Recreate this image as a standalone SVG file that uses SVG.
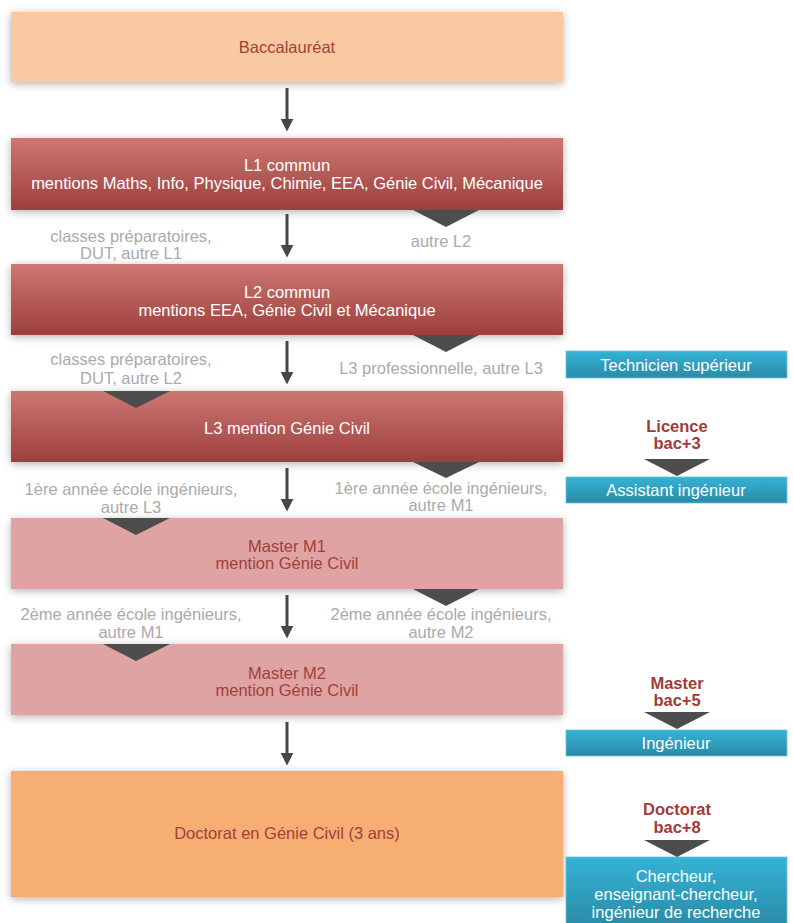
<svg xmlns="http://www.w3.org/2000/svg" width="793" height="923" viewBox="0 0 793 923">
<defs>
<filter id="sh" x="-10%" y="-30%" width="120%" height="160%">
<feDropShadow dx="0" dy="2" stdDeviation="4" flood-color="#000" flood-opacity="0.3"/>
</filter>
<linearGradient id="red" x1="0" y1="0" x2="0" y2="1">
<stop offset="0" stop-color="#cd7773"/>
<stop offset="1" stop-color="#9d3f3d"/>
</linearGradient>
<linearGradient id="teal" x1="0" y1="0" x2="0" y2="1">
<stop offset="0" stop-color="#35b3d6"/>
<stop offset="1" stop-color="#2a8aa6"/>
</linearGradient>
<marker id="ah" viewBox="0 0 10 10" refX="1" refY="5" markerWidth="4.3" markerHeight="5" orient="auto" markerUnits="strokeWidth">
<path d="M0,0 L10,5 L0,10 Z" fill="#464646"/>
</marker>
<style>
text{font-family:"Liberation Sans",Arial,sans-serif;font-size:16.5px;text-anchor:middle}
.w{fill:#fff}
.d{fill:#a2403b}
.g{fill:#aaaaaa}
.b{fill:#a13a38;font-weight:bold}
.conn line{stroke:#464646;stroke-width:3}
.chev{fill:#4d4d4d}
</style>
</defs>

<g id="bac">
<rect x="11" y="12" width="552" height="70" fill="#f9c9a2" filter="url(#sh)"/>
<text x="287" y="53" class="d">Baccalauréat</text>
</g>

<g id="l1">
<rect x="11" y="138" width="552" height="72" fill="url(#red)" filter="url(#sh)"/>
<text x="287" y="171" class="w">L1 commun</text>
<text x="287" y="189" class="w">mentions Maths, Info, Physique, Chimie, EEA, Génie Civil, Mécanique</text>
</g>

<g id="l2">
<rect x="11" y="264" width="552" height="71" fill="url(#red)" filter="url(#sh)"/>
<text x="287" y="298" class="w">L2 commun</text>
<text x="287" y="316" class="w">mentions EEA, Génie Civil et Mécanique</text>
</g>

<g id="l3">
<rect x="11" y="391" width="552" height="71" fill="url(#red)" filter="url(#sh)"/>
<text x="287" y="434" class="w">L3 mention Génie Civil</text>
</g>

<g id="m1">
<rect x="11" y="518" width="552" height="71" fill="#dfa3a3" filter="url(#sh)"/>
<text x="287" y="552" class="d">Master M1</text>
<text x="287" y="569" class="d">mention Génie Civil</text>
</g>

<g id="m2">
<rect x="11" y="644" width="552" height="71" fill="#dfa3a3" filter="url(#sh)"/>
<text x="287" y="679" class="d">Master M2</text>
<text x="287" y="696" class="d">mention Génie Civil</text>
</g>

<g id="doc">
<rect x="11" y="771" width="552" height="126" fill="#f7ae73" filter="url(#sh)"/>
<text x="287" y="839" class="d">Doctorat en Génie Civil (3 ans)</text>
</g>

<g id="tech">
<rect x="566" y="351" width="221" height="27" fill="url(#teal)" stroke="#6cc3dd" stroke-width="0.8"/>
<text x="676" y="371" class="w">Technicien supérieur</text>
</g>

<g id="assist">
<rect x="566" y="477" width="221" height="26" fill="url(#teal)" stroke="#6cc3dd" stroke-width="0.8"/>
<text x="676" y="496" class="w">Assistant ingénieur</text>
</g>

<g id="ing">
<rect x="566" y="730" width="221" height="26" fill="url(#teal)" stroke="#6cc3dd" stroke-width="0.8"/>
<text x="676" y="749" class="w">Ingénieur</text>
</g>

<g id="cherch">
<rect x="566" y="857" width="221" height="70" fill="url(#teal)" stroke="#6cc3dd" stroke-width="0.8"/>
<text x="676" y="882" class="w">Chercheur,</text>
<text x="676" y="900" class="w">enseignant-chercheur,</text>
<text x="676" y="918" class="w">ingénieur de recherche</text>
</g>

<g id="labels">
<text x="131" y="242" class="g">classes préparatoires,</text>
<text x="131" y="259" class="g">DUT, autre L1</text>
<text x="441" y="247" class="g">autre L2</text>
<text x="131" y="365" class="g">classes préparatoires,</text>
<text x="131" y="384" class="g">DUT, autre L2</text>
<text x="441" y="374" class="g">L3 professionnelle, autre L3</text>
<text x="131" y="495" class="g">1ère année école ingénieurs,</text>
<text x="131" y="513" class="g">autre L3</text>
<text x="441" y="494" class="g">1ère année école ingénieurs,</text>
<text x="441" y="511" class="g">autre M1</text>
<text x="131" y="620" class="g">2ème année école ingénieurs,</text>
<text x="131" y="638" class="g">autre M1</text>
<text x="441" y="620" class="g">2ème année école ingénieurs,</text>
<text x="441" y="638" class="g">autre M2</text>
<text x="677" y="432" class="b">Licence</text>
<text x="677" y="449" class="b">bac+3</text>
<text x="677" y="689" class="b">Master</text>
<text x="677" y="706" class="b">bac+5</text>
<text x="677" y="815" class="b">Doctorat</text>
<text x="677" y="833" class="b">bac+8</text>
</g>

<g id="connectors" class="conn">
<line x1="287" y1="88" x2="287" y2="120" marker-end="url(#ah)"/>
<line x1="287" y1="214" x2="287" y2="246" marker-end="url(#ah)"/>
<line x1="287" y1="341" x2="287" y2="373" marker-end="url(#ah)"/>
<line x1="287" y1="468" x2="287" y2="500" marker-end="url(#ah)"/>
<line x1="287" y1="595" x2="287" y2="627" marker-end="url(#ah)"/>
<line x1="287" y1="722" x2="287" y2="754" marker-end="url(#ah)"/>
<polygon class="chev" points="413,210 479,210 446,227"/>
<polygon class="chev" points="413,335 479,335 446,352"/>
<polygon class="chev" points="103,391 170,391 136,408"/>
<polygon class="chev" points="413,462 479,462 446,478"/>
<polygon class="chev" points="103,518 170,518 136,535"/>
<polygon class="chev" points="413,589 479,589 446,606"/>
<polygon class="chev" points="103,644 170,644 136,661"/>
<polygon class="chev" points="644,459 710,459 677,476"/>
<polygon class="chev" points="644,712 710,712 677,729"/>
<polygon class="chev" points="644,840 710,840 677,857"/>
</g>
</svg>
